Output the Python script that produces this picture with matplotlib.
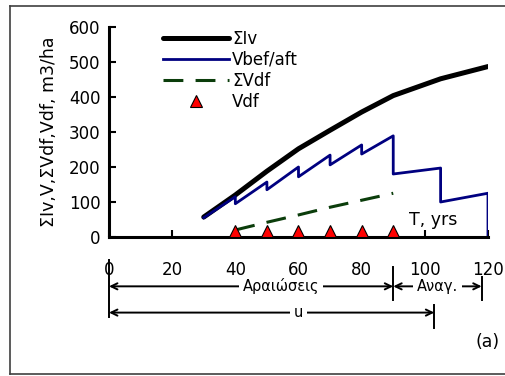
import matplotlib.pyplot as plt
import matplotlib.transforms as mtransforms
from matplotlib.lines import Line2D

# data
age_iv = [30, 40, 50, 60, 70, 80, 90, 105, 120]
sum_iv = [57, 120, 188, 252, 305, 357, 404, 452, 487]

age_v = [30, 40, 40, 50, 50, 60, 60, 70, 70, 80, 80, 90, 90, 105, 105, 120, 120]
v_bef_aft = [55, 115, 95, 157, 135, 200, 172, 234, 206, 263, 237, 289, 180, 197, 100, 125, 0]

age_df = [40, 50, 60, 70, 80, 90]
sum_vdf = [20, 42, 63, 85, 105, 125]
vdf = [18, 18, 18, 18, 18, 18]

xticks = [0, 20, 40, 60, 80, 100, 120]
yticks = [0, 100, 200, 300, 400, 500, 600]

plt.rcParams['font.family'] = 'DejaVu Sans'
fig = plt.figure(figsize=(5.06, 3.76), dpi=100)
ax = fig.add_axes([0.2154, 0.3697, 0.7490, 0.5585])

ax.plot(age_iv, sum_iv, color='black', lw=3.6, label='ΣIv', solid_capstyle='round')
ax.plot(age_v, v_bef_aft, color='#000080', lw=2.0, label='Vbef/aft')
ax.plot(age_df, sum_vdf, color='#0b3d0b', lw=2.2, dashes=(6.5, 4), label='ΣVdf')
ax.plot(age_df, vdf, ls='none', marker='^', ms=8, mfc='#ff0000', mec='black', mew=0.8,
        label='Vdf', clip_on=False, zorder=5)

ax.set_xlim(0, 120)
ax.set_ylim(0, 600)
ax.set_xticks(xticks)
ax.set_yticks(yticks)
for s in ['top', 'right']:
    ax.spines[s].set_visible(False)
for s in ['left', 'bottom']:
    ax.spines[s].set_linewidth(2.2)
ax.tick_params(axis='x', direction='in', length=5, width=1.5, pad=17, labelsize=12)
ax.tick_params(axis='y', direction='in', length=5, width=1.5, pad=6, labelsize=12)
ax.set_ylabel('ΣIv,V,ΣVdf,Vdf, m3/ha', fontsize=12.5, labelpad=8)

ax.text(95, 22, 'T, yrs', fontsize=12.5, ha='left', va='bottom')

ax.legend(loc='upper left', bbox_to_anchor=(0.142, 0.985), frameon=False, fontsize=12,
          borderpad=0, borderaxespad=0, handlelength=4.0, handletextpad=0.15,
          labelspacing=0.17)

# dimension arrows below the axis
tr = mtransforms.blended_transform_factory(ax.transData, ax.transAxes)
arrow = dict(arrowstyle='<->,head_length=0.45,head_width=0.22', color='black', lw=1.4,
             shrinkA=0, shrinkB=0)


def dim(x0, x1, y, label, xt):
    ax.annotate('', xy=(x0, y), xytext=(x1, y), xycoords=tr, textcoords=tr,
                arrowprops=arrow, annotation_clip=False)
    ax.text(xt, y, label, transform=tr, ha='center', va='center', fontsize=10.5,
            bbox=dict(facecolor='white', edgecolor='none', pad=2.5), clip_on=False)


def vbar(x, y0, y1):
    ax.add_line(Line2D([x, x], [y0, y1], transform=tr, color='black', lw=1.4, clip_on=False))


dim(0, 90, -0.235, 'Αραιώσεις', 54.5)
dim(90, 118, -0.235, 'Αναγ.', 104)
dim(0, 103, -0.36, 'u', 60)
vbar(0, -0.11, -0.38)
vbar(90, -0.145, -0.30)
vbar(118, -0.19, -0.30)
vbar(103, -0.325, -0.435)

fig.text(0.964, 0.09, '(a)', fontsize=12.5, ha='center', va='center')

# outer frame (top, left, bottom)
fc = '#404040'
fig.add_artist(Line2D([0.0198, 1.0], [0.984, 0.984], transform=fig.transFigure, color=fc, lw=1.2))
fig.add_artist(Line2D([0.0198, 0.0198], [0.984, 0.0053], transform=fig.transFigure, color=fc, lw=1.2))
fig.add_artist(Line2D([0.0198, 1.0], [0.0053, 0.0053], transform=fig.transFigure, color=fc, lw=1.2))

fig.savefig('out.png', dpi=100)
